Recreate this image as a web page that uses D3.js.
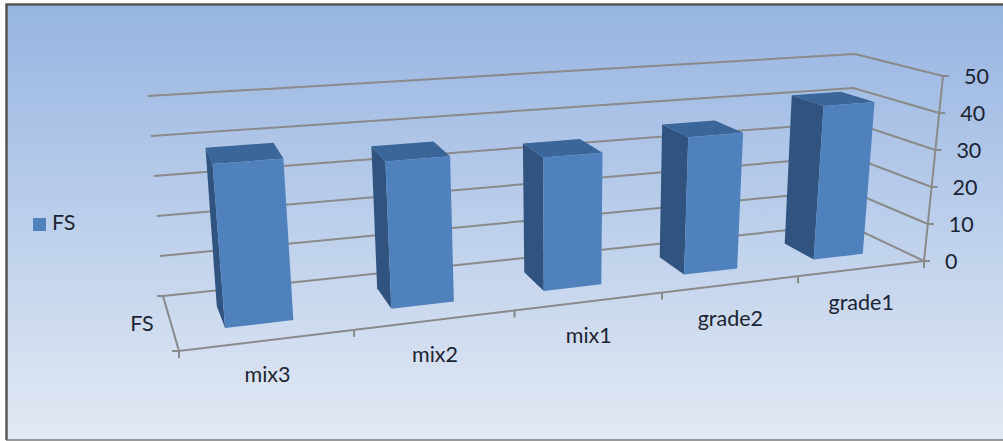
<!DOCTYPE html>
<html>
<head>
<meta charset="utf-8">
<script src="https://cdnjs.cloudflare.com/ajax/libs/d3/7.8.5/d3.min.js"></script>
<style>
html,body{margin:0;padding:0;background:#fff;}
svg{display:block;}
text{font-family:Lato,"Open Sans",sans-serif;fill:#1c2433;}
</style>
</head>
<body>
<svg id="chart" width="1003" height="441"></svg>
<script>
// Series, read front-to-back along the category axis
const categories = ["mix3", "mix2", "mix1", "grade2", "grade1"];
const seriesName = "FS";
const fsValues = [39, 36.3, 34, 36.2, 41.7];
const valueTicks = [0, 10, 20, 30, 40, 50];

const svg = d3.select("#chart");
const defs = svg.append("defs");

const bg = defs.append("linearGradient").attr("id", "bg").attr("x2", 0).attr("y2", 1);
bg.append("stop").attr("offset", 0).attr("stop-color", "#97b4e1");
bg.append("stop").attr("offset", 0.5).attr("stop-color", "#bccfeb");
bg.append("stop").attr("offset", 1).attr("stop-color", "#e3e9f4");

// Panel and frame
svg.append("rect").attr("x", 6).attr("y", 5).attr("width", 997).attr("height", 435).attr("fill", "url(#bg)");
svg.append("path").attr("d", "M6.5,440V4.5H1003").attr("fill", "none").attr("stroke", "#555").attr("stroke-width", 2.5);
svg.append("path").attr("d", "M6,440H1003").attr("fill", "none").attr("stroke", "#777").attr("stroke-width", 1.5);

// Corners of the 3D plot box: [side][depth][level]
const box = {
  lfb: [179, 351], lbb: [163, 296], rfb: [924, 261], rbb: [846, 224],
  lft: [159, 133], lbt: [148, 96],  rft: [943, 76],  rbt: [855, 54]
};
const lerp = (a, b, t) => [a[0] + (b[0] - a[0]) * t, a[1] + (b[1] - a[1]) * t];

// Foreshortening along the category axis
const catScale = d3.scaleLinear().domain([0, categories.length]).range([0, 1]);
const foreshorten = 1.229;
const warp = t => foreshorten * t / (1 + (foreshorten - 1) * t);
const valueScale = d3.scaleLinear().domain([0, 50]).range([0, 1]);

// Project (category position, depth 0..1, value) on to the page
function project(c, depth, value) {
  const u = warp(catScale(c)), w = valueScale(value);
  const bottom = lerp(lerp(box.lfb, box.rfb, u), lerp(box.lbb, box.rbb, u), depth);
  const top = lerp(lerp(box.lft, box.rft, u), lerp(box.lbt, box.rbt, u), depth);
  return lerp(bottom, top, w);
}
const line = d3.line();
const n = categories.length;
const axisColor = "#8a8a8a";
const gridG = svg.append("g").attr("fill", "none").attr("stroke", axisColor).attr("stroke-width", 2);

// Back and right walls
valueTicks.forEach(t => {
  gridG.append("path").attr("d", line([project(0, 1, t), project(n, 1, t), project(n, 0, t)]));
  const e = project(n, 0, t);
  gridG.append("path").attr("d", line([e, [e[0] + 6, e[1]]]));
});

// Floor edges and vertical axis
gridG.append("path").attr("d", line([project(0, 1, 0), project(0, 0, 0), project(n, 0, 0)]));
gridG.append("path").attr("d", line([project(n, 0, 0), project(n, 0, 50)]));
const lb = project(0, 1, 0), lf = project(0, 0, 0);
gridG.append("path").attr("d", line([[lb[0] - 6, lb[1]], lb]));
gridG.append("path").attr("d", line([[lf[0] - 7, lf[1]], lf]));

// Category ticks
d3.range(n + 1).forEach(i => {
  const p = project(i, 0, 0);
  gridG.append("path").attr("d", line([p, [p[0], p[1] + 7]]));
});

// Bars, each with a side, top and front face
const barStart = 0.29, barEnd = 0.69, depthFront = 0.31, depthBack = 0.72;
const barG = svg.append("g");
const faces = (i, v) => {
  const a = i + barStart, b = i + barEnd;
  return {
    fl0: project(a, depthFront, 0), fr0: project(b, depthFront, 0), bl0: project(a, depthBack, 0),
    flv: project(a, depthFront, v), frv: project(b, depthFront, v),
    blv: project(a, depthBack, v), brv: project(b, depthBack, v)
  };
};
fsValues.forEach((v, i) => {
  const c = faces(i, v);
  const g = barG.append("g");
  g.append("path").attr("fill", "#30547f").attr("d", line([c.bl0, c.fl0, c.flv, c.blv]) + "Z");
  g.append("path").attr("fill", "#3a6699").attr("d", line([c.blv, c.brv, c.frv, c.flv]) + "Z");
  g.append("path").attr("fill", "#4f81bd").attr("d", line([c.fl0, c.fr0, c.frv, c.flv]) + "Z");
});

// Value labels
const fontSize = 21.5;
valueTicks.forEach(t => {
  const e = project(n, 0, t);
  svg.append("text").attr("x", e[0] + 21).attr("y", e[1] + 8).attr("font-size", fontSize).text(t);
});

// Category labels sit below the front edge
categories.forEach((c, i) => {
  const p = project(i + 0.5, 0, 0);
  svg.append("text").attr("x", p[0] - 1).attr("y", p[1] + 42).attr("text-anchor", "middle")
    .attr("font-size", fontSize).text(c);
});

// Depth axis label
svg.append("text").attr("x", 142).attr("y", 331).attr("text-anchor", "middle").attr("font-size", fontSize).text(seriesName);

// Legend
svg.append("rect").attr("x", 33).attr("y", 218).attr("width", 13).attr("height", 13).attr("fill", "#4f81bd");
svg.append("text").attr("x", 52).attr("y", 230).attr("font-size", fontSize).text(seriesName);
</script>
</body>
</html>
